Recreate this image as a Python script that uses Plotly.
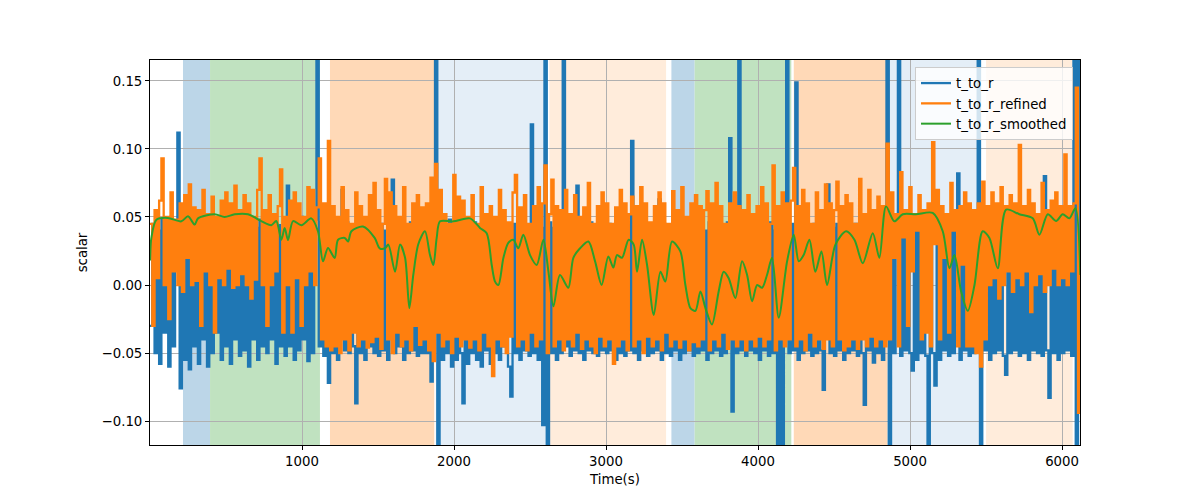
import plotly.graph_objects as go

# ---------------- data ----------------
sample_step = 15  # seconds between samples of t_to_r / t_to_r_refined

t_to_r = [
    -.03, .045, -.05, .04, -.058, .048, -.035, .042, -.06, .05, -.045, .04, .112, -.076, .045, -.055, .04, -.062, .048, -.045,
    .042, -.058, .046, -.04, .05, -.06, .04, -.05, .045, -.035, .048, -.055, .04, -.045, .05, -.058, .042, -.04, .046, -.052,
    .04, -.048, .05, -.06, .045, -.04, .042, -.055, .048, -.045, .04, -.05, .046, -.04, .05, -.058, .044, -.045, .04, -.052,
    .073, -.045, .046, -.055, .04, -.048, .05, -.04, .045, -.056, .042, -.05, .048, .2, -.045, .046, -.052, .04, -.072, .048,
    -.05, .045, -.055, .042, .07, -.048, .046, -.05, .04, -.045, -.087, .048, -.05, .042, -.055, .046, -.045, .04, -.05, .048,
    -.052, .045, -.048, .04, -.055, .046, .0775, -.05, .042, -.045, .048, -.055, .04, -.05, .046, -.048, .042, -.052, .045, -.05,
    .045, -.05, .042, -.071, .046, .2, -.2, .045, -.055, .04, -.05, .048, -.06, .042, -.055, .046, -.05, -.087, .045, -.058,
    .042, -.05, .046, -.055, .04, -.06, .045, -.048, .042, -.058, .046, -.05, .04, -.055, .048, -.045, .042, -.06, -.082, .045,
    -.05, .042, -.055, .046, -.048, .04, -.052, .118, -.05, .045, -.055, .042, -.103, .2, -.2, .046, -.05, .042, -.055, .045,
    -.05, .2, -.045, .042, -.052, .046, -.048, .073, -.05, .042, -.055, .045, -.048, .046, -.05, .04, -.052, .045, -.048, .042,
    -.05, .045, -.048, .042, -.055, .046, -.05, .04, -.052, .045, -.048, .106, -.05, .042, -.055, .046, -.048, .04, -.052, .045,
    -.05, .042, -.048, .063, -.055, .045, -.05, .04, -.052, .046, -.048, .042, -.055, .045, -.05, .04, -.048, .046, -.052, .042,
    -.05, .045, -.048, .04, -.055, .046, -.05, .042, -.048, .045, -.052, .04, -.05, .046, .108, -.093, .042, -.05, .2, -.048,
    .045, -.052, .042, -.048, .046, -.05, .04, -.055, .045, -.048, .042, -.052, .046, -.05, .04, -.2, .0, -.2, .045, .2,
    -.05, .045, -.048, .149, -.055, .042, -.05, .046, -.048, .04, -.052, .045, -.05, .042, -.048, -.077, .046, .074, -.05, .042,
    -.052, .045, -.048, .042, -.055, .046, -.05, .04, -.048, .045, -.052, .042, -.05, -.088, .046, -.048, .04, -.057, .045, -.05,
    .042, -.055, .046, .2, -.2, .045, -.05, .042, .2, -.052, .046, -.048, .04, -.05, -.063, .045, -.055, .042, -.05, .046,
    -.052, -.2, .045, -.05, -.074, .042, -.055, .046, -.048, .04, -.052, .045, -.05, .042, .082, -.055, .046, -.048, .04, -.052,
    .045, -.05, .042, .2, -.2, .046, -.048, .04, -.055, .045, -.05, .042, -.048, .046, -.052, -.066, .04, -.05, .045, -.048,
    .042, -.052, .046, -.05, .04, -.055, .045, -.048, .042, -.05, .046, -.052, .08, -.048, -.083, .045, -.05, .042, -.055, .046,
    -.05, .042, -.048, .045, -.052, .2, -.2, .2, -.03,
]

t_to_r_refined = [
    .045, -.03, .055, .005, .062, .093, .0, .05, -.025, .068, .01, .048, .0, .06, -.005, .066, .02, .074, .0, .057,
    .003, .055, -.03, .07, .01, .052, .0, .065, -.035, .05, .005, .062, .0, .068, .012, .06, -.002, .073, .0, .055,
    .008, .066, .0, .06, -.01, .05, .004, .07, .093, .0, .055, -.03, .066, .0, .052, .01, .058, .085, -.035, .05,
    .0, .062, -.035, .068, .005, .06, -.03, .05, .0, .072, .01, .07, .0, .057, .093, -.04, .06, -.045, .106, -.048,
    .058, -.045, .05, -.05, .072, -.04, .055, -.048, .045, -.035, .068, -.045, .058, -.04, .05, -.046, .066, -.042, .075, -.038,
    .055, -.047, .045, .078, -.04, .068, -.05, .058, -.035, .05, -.045, .072, -.04, .045, -.048, .06, -.03, .066, -.044, .057,
    -.04, .06, -.048, .079, -.056, .089, -.035, .07, -.045, .052, -.04, .045, -.05, .081, -.038, .065, -.045, .062, -.04, .05,
    -.046, .066, -.04, .045, -.048, .072, -.035, .052, -.045, .058, -.067, .05, -.04, .07, -.045, .055, -.05, .046, -.038, .068,
    .081, -.045, .057, -.04, .066, -.048, .045, -.035, .058, -.045, .072, -.04, .06, .088, -.05, .052, .0775, -.045, .058, -.04,
    .055, -.048, .07, -.04, .052, -.045, .066, -.035, .05, -.047, .057, -.04, .075, -.045, .045, -.05, .058, -.038, .068, -.045,
    .06, -.04, .045, -.058, .057, -.045, .07, -.04, .06, -.048, .052, .065, -.045, .058, -.04, .072, -.05, .06, -.038, .046,
    -.045, .058, -.04, .068, -.048, .06, -.035, .045, -.045, .069, -.04, .055, -.046, .072, -.04, .05, -.048, .06, -.042, .066,
    -.045, .058, -.04, .055, .069, -.048, .06, -.04, .075, -.045, .058, -.035, .045, -.047, .06, -.04, .068, -.045, .058, -.04,
    .055, -.048, .066, -.04, .052, -.045, .058, -.038, .072, -.045, .06, -.04, .045, .088, -.048, .058, -.04, .068, -.045, .06,
    -.04, .062, .086, -.045, .058, -.04, .07, -.048, .06, -.035, .045, -.045, .068, -.04, .055, -.047, .074, -.04, .06, -.045,
    .055, .076, -.04, .058, -.048, .066, -.045, .06, -.04, .045, -.047, .078, -.04, .052, -.045, .07, -.038, .055, -.045, .065,
    -.04, .058, -.045, .104, -.04, .068, .02, .052, -.045, .083, .035, .055, -.03, .072, .01, .052, .04, .066, -.04, .055,
    -.035, .06, -.045, .105, .03, .07, -.04, .058, .02, .052, -.035, .075, .04, .055, -.045, .058, .015, .068, -.045, .06,
    -.045, .055, -.05, .06, -.06, .076, -.04, .058, .0, .068, .005, .06, -.01, .072, .0, .058, .01, .066, -.005, .06,
    .005, .103, .0, .058, .01, .07, -.02, .06, .0, .052, .008, .075, -.005, .055, .0, .062, .012, .068, .0, .058,
    .005, .096, .0, .058, .01, .06, .145, -.094, .02,
]

smoothed_time = [
    0, 9, 42, 118, 206, 250, 294, 316, 425, 491, 557, 645, 732, 798, 831, 864, 886, 908, 941, 996,
    1061, 1105, 1138, 1171, 1215, 1237, 1281, 1303, 1325, 1401, 1478, 1511, 1546, 1568, 1612, 1645, 1678, 1706, 1732, 1765,
    1809, 1842, 1864, 1886, 1908, 1996, 2105, 2171, 2215, 2248, 2270, 2292, 2325, 2357, 2390, 2423, 2456, 2500, 2544, 2588,
    2621, 2654, 2697, 2752, 2785, 2829, 2884, 2928, 2971, 3015, 3048, 3072, 3105, 3149, 3182, 3204, 3237, 3270, 3314, 3358,
    3390, 3434, 3489, 3522, 3555, 3588, 3621, 3654, 3697, 3741, 3774, 3807, 3851, 3895, 3928, 3961, 3994, 4027, 4059, 4092,
    4136, 4191, 4235, 4268, 4300, 4338, 4377, 4417, 4454, 4509, 4579, 4634, 4689, 4755, 4798, 4842, 4897, 4952, 5039, 5149,
    5215, 5259, 5292, 5336, 5380, 5424, 5478, 5522, 5577, 5632, 5719, 5807, 5851, 5906, 5961, 6004, 6048, 6088, 6120,
]
t_to_r_smoothed = [
    .018, .0346, .048, .0493, .0468, .0505, .0444, .049, .052, .05, .052, .052, .047, .044, .047, .0333, .042, .033, .047, .044,
    .049, .0395, .0174, .0272, .0199, .0333, .0346, .032, .0395, .043, .0346, .027, .027, .0297, .0098, .0297, .02, -.017, .0074, .03,
    .0395, .022, .0147, .0346, .0468, .0468, .049, .042, .038, .0147, .0025, .0, .02, .031, .0333, .027, .037, .022, .0147, .0333,
    .0098, -.0157, .0074, -.002, .02, .027, .032, .0174, .0, .021, .0128, .022, .02, .0333, .0297, .0098, .0333, .0147, -.022, .0098,
    .0025, .032, .0247, .0, -.017, -.019, -.0047, -.017, -.029, -.0047, .0098, .005, -.0096, .0174, .0074, -.012, .0, -.002, .0074, .02,
    -.024, .0174, .037, .0174, .022, .0333, .0098, .0247, .0, .0297, .0395, .0333, .016, .038, .02, .0578, .0468, .052, .052, .053,
    .0395, .0123, .022, -.0047, -.019, .0, .0395, .0346, .0123, .0554, .052, .049, .037, .052, .047, .052, .049, .0564, .0074,
]

# shaded phases: (start s, end s, colour)
phase_start = [217, 395, 1184, 1880, 2627, 3430, 3583, 4235, 4853, 5500]
phase_end = [395, 1118, 1870, 2605, 3395, 3583, 4219, 4853, 5457, 6070]
phase_color = ["#bcd6e8", "#c0e2c0", "#ffd9b7", "#e4eef7", "#ffecdb",
               "#bcd6e8", "#c0e2c0", "#ffd9b7", "#e4eef7", "#ffecdb"]

x_range = [0, 6118]
y_range = [-0.1176, 0.1654]
x_ticks = [1000, 2000, 3000, 4000, 5000, 6000]
y_ticks = [-0.10, -0.05, 0.00, 0.05, 0.10, 0.15]
y_tick_text = ["\u22120.10", "\u22120.05", "0.00", "0.05", "0.10", "0.15"]

# ---------------- figure ----------------
t_raw = [i * sample_step for i in range(len(t_to_r))]
t_ref = [i * sample_step for i in range(len(t_to_r_refined))]

FONT = "DejaVu Sans"
FS = 13.3
fig = go.Figure()
fig.add_trace(go.Scatter(x=t_raw, y=t_to_r, mode="lines", name="t_to_r",
                         line=dict(color="#1f77b4", width=2.3, shape="hv")))
fig.add_trace(go.Scatter(x=t_ref, y=t_to_r_refined, mode="lines", name="t_to_r_refined",
                         line=dict(color="#ff7f0e", width=2.3, shape="hv")))
fig.add_trace(go.Scatter(x=smoothed_time, y=t_to_r_smoothed, mode="lines", name="t_to_r_smoothed",
                         line=dict(color="#2ca02c", width=2, shape="spline", smoothing=0.8)))

for x0, x1, c in zip(phase_start, phase_end, phase_color):
    fig.add_shape(type="rect", xref="x", yref="paper", x0=x0, x1=x1, y0=0, y1=1,
                  fillcolor=c, line=dict(width=0), layer="below")

axis_common = dict(ticks="outside", ticklen=4, tickcolor="black", tickfont=dict(family=FONT, size=FS),
                   showline=True, linecolor="black", linewidth=1, mirror=True,
                   showgrid=True, gridcolor="#b0b0b0", gridwidth=1, zeroline=False)

fig.update_layout(
    width=1200, height=500,
    margin=dict(l=150, r=120, t=60, b=55),
    paper_bgcolor="white", plot_bgcolor="white",
    font=dict(family=FONT, size=FS, color="black"),
    showlegend=True,
    legend=dict(x=0.9925, y=0.982, xanchor="right", yanchor="top",
                bgcolor="rgba(255,255,255,0.8)", bordercolor="#cccccc", borderwidth=1,
                font=dict(family=FONT, size=FS), tracegroupgap=0, itemwidth=30),
    xaxis=dict(range=x_range, tickvals=x_ticks,
               title=dict(text="Time(s)", standoff=6, font=dict(family=FONT, size=FS)),
               **axis_common),
    yaxis=dict(range=y_range, tickvals=y_ticks, ticktext=y_tick_text,
               title=dict(text="scalar", standoff=10, font=dict(family=FONT, size=FS)),
               **axis_common),
)

fig.write_html("out.html", config={"displayModeBar": False})
